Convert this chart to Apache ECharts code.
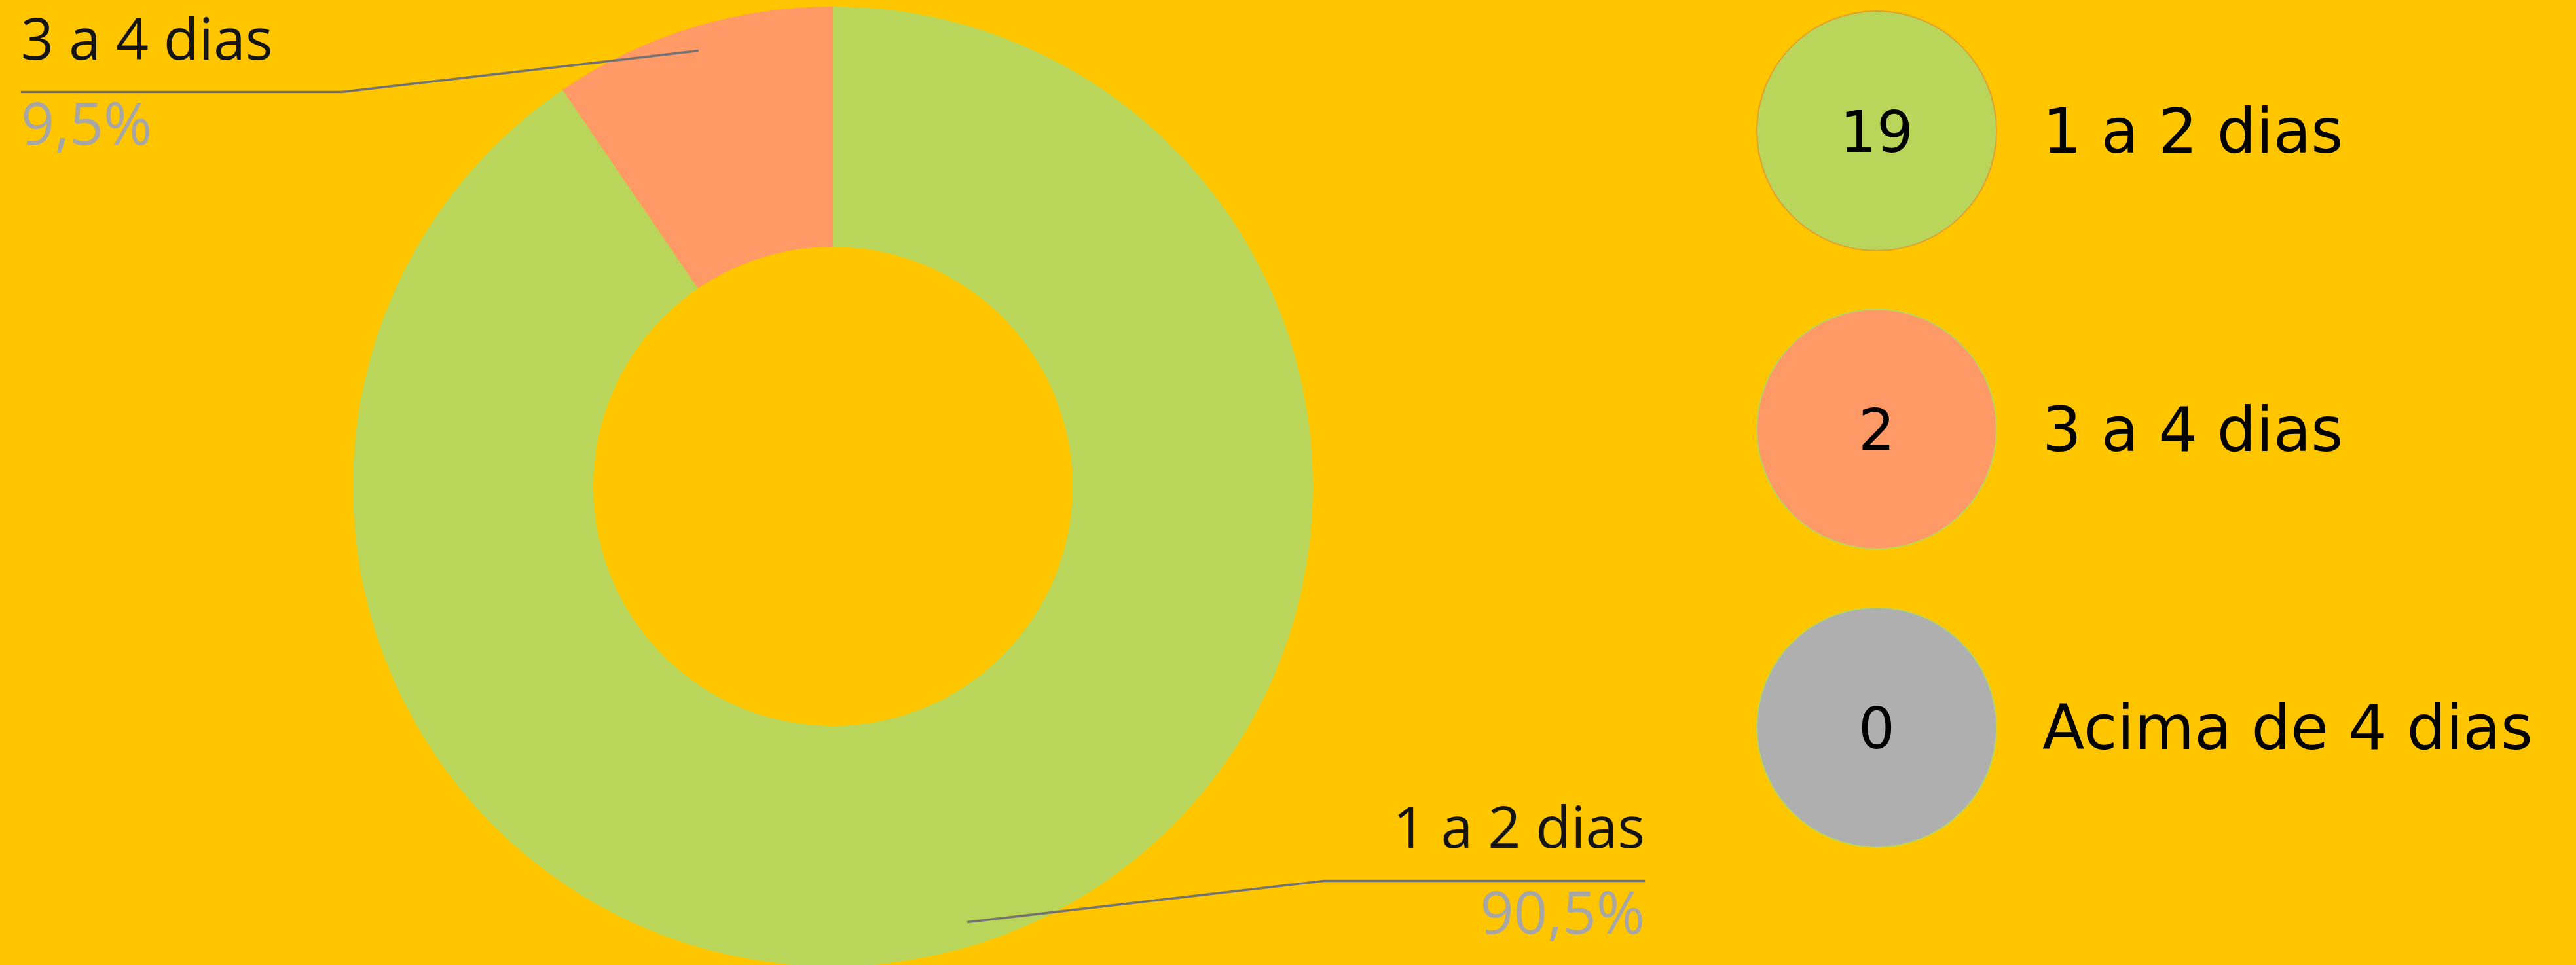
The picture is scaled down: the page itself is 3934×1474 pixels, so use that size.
<!DOCTYPE html>
<html>
<head>
<meta charset="utf-8">
<script src="https://cdn.jsdelivr.net/npm/echarts@6/dist/echarts.min.js"></script>
<style>
html,body{margin:0;padding:0;background:#FFC600;}
#c{width:3934px;height:1474px;}
</style>
</head>
<body>
<div id="c"></div>
<script>
// ---- data ----
const categories = ['1 a 2 dias', '3 a 4 dias', 'Acima de 4 dias'];
const counts = [19, 2, 0];
const colors = ['#B9D65A', '#FF9966', '#AFAFAF'];
const circleBorders = ['#E0A030', '#B9D65A', '#B9D65A'];

// ---- layout constants ----
const CX = 1272, CY = 743, R_IN = 366, R_OUT = 733;
const total = counts.reduce((a, b) => a + b, 0);
const pct = v => (v / total * 100).toFixed(1).replace('.', ',') + '%';
const LEG_FONT = "'DejaVu Sans', 'Open Sans', sans-serif";

const pieData = categories.map((n, i) => ({name: n, value: counts[i], itemStyle: {color: colors[i]}}));

const chart = echarts.init(document.getElementById('c'), null, {renderer: 'canvas'});
chart.setOption({
  backgroundColor: '#FFC600',
  animation: false,
  grid: {left: 2683, width: 366, top: 200, height: 911, outerBoundsMode: 'none'},
  xAxis: {type: 'value', min: -1, max: 1, show: false},
  yAxis: {
    type: 'category', data: categories, inverse: true, boundaryGap: false,
    position: 'right',
    axisLine: {show: false}, axisTick: {show: false}, splitLine: {show: false},
    axisLabel: {
      margin: 70,
      formatter: v => '{a|' + v + '}',
      rich: {a: {color: '#000', fontSize: 94, fontFamily: LEG_FONT, padding: [18, 0, 0, 0]}}
    }
  },
  series: [
    {
      // the donut itself
      type: 'pie',
      z: 2,
      center: [CX, CY],
      radius: [R_IN, R_OUT],
      startAngle: 90,
      data: pieData,
      label: {show: false},
      labelLine: {show: false},
      emphasis: {disabled: true}
    },
    {
      // same data, drawn on top, carrying the leader lines and labels
      type: 'pie',
      z: 3,
      silent: true,
      center: [CX, CY],
      radius: [R_IN, R_OUT],
      startAngle: 90,
      minShowLabelAngle: 1,
      data: pieData.map(d => ({name: d.name, value: d.value, itemStyle: {color: 'rgba(0,0,0,0)'}})),
      label: {
        show: true, position: 'outside',
        formatter: p => '{n|' + p.name + '}\n{p|' + pct(p.value) + '}',
        rich: {
          n: {fontSize: 88, fontFamily: 'Open Sans', fontWeight: 500, color: '#141414', lineHeight: 110},
          p: {fontSize: 90, fontFamily: 'Open Sans', color: '#A6A6A6', lineHeight: 150}
        }
      },
      labelLine: {show: true, length: 10, length2: 10, lineStyle: {color: '#727272', width: 3.5}},
      labelLayout: function (p) {
        const pts = p.labelLinePoints;
        if (!pts) return {};
        const p0 = pts[0];
        const s = p0[0] >= CX ? 1 : -1;
        const sx = CX + (p0[0] - CX) * 0.95, sy = CY + (p0[1] - CY) * 0.95;
        const ex = sx + s * 545, ey = sy - s * 63;
        const tx = ex + s * 490;
        return {
          x: tx, y: ey, align: s > 0 ? 'right' : 'left', verticalAlign: 'middle',
          labelLinePoints: [[sx, sy], [ex, ey], [tx, ey]]
        };
      },
      emphasis: {disabled: true}
    },
    {
      type: 'scatter',
      symbol: 'circle',
      symbolSize: 366,
      data: categories.map((n, i) => ({
        value: [0, n],
        itemStyle: {color: colors[i], borderColor: circleBorders[i], borderWidth: 2, opacity: 1}
      })),
      label: {
        show: true, position: 'inside', offset: [0, 9],
        formatter: p => String(counts[p.dataIndex]),
        fontSize: 88, fontFamily: LEG_FONT, color: '#000'
      },
      emphasis: {disabled: true}
    }
  ]
});
</script>
</body>
</html>
